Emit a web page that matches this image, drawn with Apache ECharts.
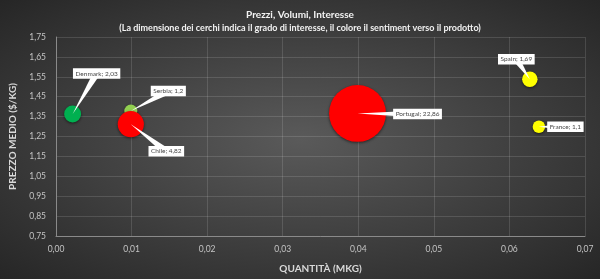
<!DOCTYPE html>
<html>
<head>
<meta charset="utf-8">
<script src="https://cdn.jsdelivr.net/npm/echarts@6/dist/echarts.min.js"></script>
<style>
html,body{margin:0;padding:0;background:#333;}
#c{width:600px;height:279px;}
</style>
</head>
<body>
<div id="c"></div>
<script>
// ---- data ----
const countries = ['Denmark', 'Serbia', 'Chile', 'Portugal', 'Spain', 'France'];
const quantity  = [0.0022, 0.0099, 0.0099, 0.0399, 0.0627, 0.0639];
const price     = [1.363, 1.378, 1.312, 1.366, 1.538, 1.299];
const interest  = [2.03, 1.2, 4.82, 22.86, 1.69, 1.1];
const colors    = ['#00B050', '#92D050', '#FF0000', '#FF0000', '#FFFF00', '#FFFF00'];
const xTicks = { min: 0, max: 0.07, interval: 0.01 };
const yTicks = { min: 0.75, max: 1.75, interval: 0.1 };

// ---- styles ----
const FONT = 'Lato, "Open Sans", sans-serif';
const labelOffsets = [[24, -40.5], [37.5, -20], [35.5, 27], [60, 0.5], [-13.5, -20], [26.5, 0]];
const fmt = v => String(v).replace('.', ',');

const chart = echarts.init(document.getElementById('c'), null, { renderer: 'canvas' });

const scatterData = countries.map((c, i) => ({
  name: c,
  value: [quantity[i], price[i], interest[i]],
  itemStyle: { color: colors[i] }
}));

const option = {
  animation: false,
  graphic: [{
    type: 'rect', z: -10, silent: true,
    shape: { x: 0, y: 0, width: 600, height: 600 },
    scaleY: 279 / 600,
    style: {
      fill: {
        type: 'radial', x: 0.5, y: 0.5, r: 0.72,
        colorStops: [{ offset: 0, color: '#5a5a5a' }, { offset: 1, color: '#252525' }]
      }
    }
  }],
  title: {
    text: 'Prezzi, Volumi, Interesse',
    subtext: '(La dimensione dei cerchi indica il grado di interesse, il colore il sentiment verso il prodotto)',
    left: 'center', top: 5, itemGap: 4,
    textStyle: { color: '#f2f2f2', fontFamily: FONT, fontSize: 10, fontWeight: 'bold' },
    subtextStyle: { color: '#f2f2f2', fontFamily: FONT, fontSize: 9, fontWeight: 'bold' }
  },
  grid: { left: 52, right: 15, top: 37, bottom: 43, containLabel: false },
  xAxis: {
    type: 'value', min: xTicks.min, max: xTicks.max, interval: xTicks.interval,
    name: 'QUANTITÀ (MKG)', nameLocation: 'middle', nameGap: 28,
    nameTextStyle: { color: '#d9d9d9', fontFamily: FONT, fontSize: 10, fontWeight: 'bold' },
    axisLine: { show: true, lineStyle: { color: '#8a8a8a', width: 1 } },
    axisTick: { show: false },
    axisLabel: { color: '#c4c4c4', fontFamily: FONT, fontSize: 8.5, margin: 9,
      formatter: v => v.toFixed(2).replace('.', ',') },
    splitLine: { show: true, lineStyle: { color: 'rgba(255,255,255,0.13)', width: 1 } }
  },
  yAxis: {
    type: 'value', min: yTicks.min, max: yTicks.max, interval: yTicks.interval,
    name: 'PREZZO MEDIO ($/KG)', nameLocation: 'middle', nameGap: 38, nameRotate: 90,
    nameTextStyle: { color: '#d9d9d9', fontFamily: FONT, fontSize: 10, fontWeight: 'bold' },
    axisLine: { show: true, lineStyle: { color: '#8a8a8a', width: 1 } },
    axisTick: { show: false },
    axisLabel: { color: '#c4c4c4', fontFamily: FONT, fontSize: 8.5, margin: 10,
      formatter: v => v.toFixed(2).replace('.', ',') },
    splitLine: { show: true, lineStyle: { color: 'rgba(255,255,255,0.13)', width: 1 } }
  },
  series: [
    {
      type: 'scatter',
      data: scatterData,
      symbol: 'circle',
      symbolSize: v => 11.9 * Math.sqrt(v[2]),
      itemStyle: { opacity: 1, shadowBlur: 3, shadowColor: 'rgba(0,0,0,0.55)', shadowOffsetY: 1 },
      z: 2
    },
    {
      type: 'custom',
      z: 5,
      data: countries.map((c, i) => [quantity[i], price[i], interest[i]]),
      renderItem: (params, api) => {
        const i = params.dataIndex;
        const p = api.coord([api.value(0), api.value(1)]);
        const off = labelOffsets[i];
        const cx = p[0] + off[0], cy = p[1] + off[1];
        const dx = cx - p[0], dy = cy - p[1];
        const len = Math.sqrt(dx * dx + dy * dy) || 1;
        const nx = -dy / len * 3.5, ny = dx / len * 3.5;
        return {
          type: 'group',
          children: [
            { type: 'polygon', shape: { points: [[p[0], p[1]], [cx + nx, cy + ny], [cx - nx, cy - ny]] },
              style: { fill: '#ffffff' } },
            { type: 'text', style: {
                text: countries[i] + '; ' + fmt(interest[i]),
                x: cx, y: cy, align: 'center', verticalAlign: 'middle',
                fill: '#474747', font: '6.5px ' + FONT,
                backgroundColor: '#ffffff', padding: [2, 2.5, 1.5, 2.5],
                shadowBlur: 0
              } }
          ]
        };
      }
    }
  ]
};
chart.setOption(option);
</script>
</body>
</html>
